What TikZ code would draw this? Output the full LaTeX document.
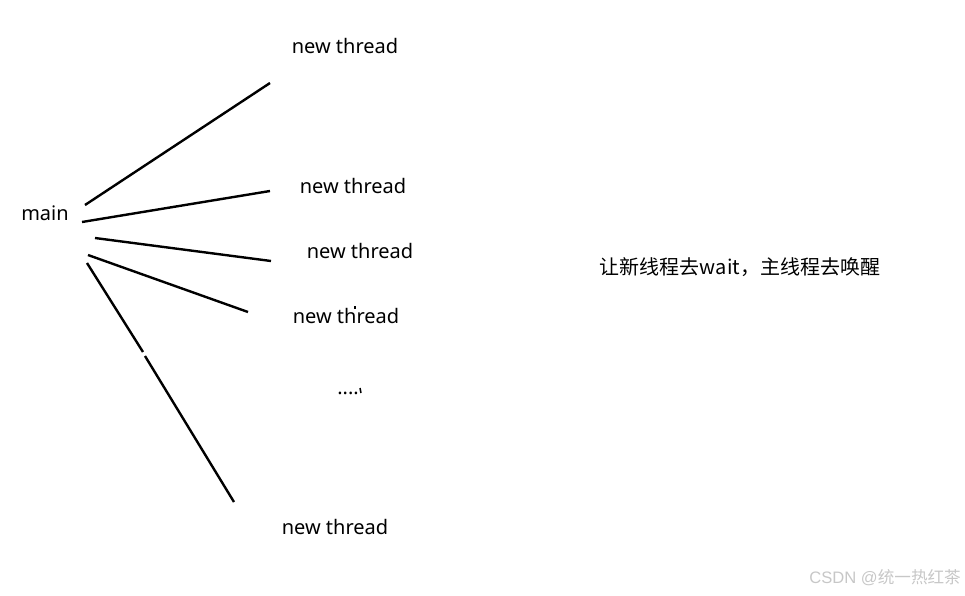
\documentclass[tikz,border=0pt]{standalone}
\usepackage{fontspec}
\setmainfont{Noto Sans}
\newfontfamily\cjk{Noto Sans CJK SC}
\newfontfamily\wmfont{Liberation Sans}
\begin{document}
\begin{tikzpicture}[x=1pt,y=-1pt,
  lbl/.style={font=\fontsize{20}{22}\selectfont, inner sep=0pt},
  cn/.style={font=\cjk\fontsize{20}{22}\selectfont, inner sep=0pt},
  wm/.style={font=\fontsize{16.6}{19}\selectfont, inner sep=0pt, text=black!22, anchor=east},
  ray/.style={line width=2.4pt, black}]
\useasboundingbox (0,0) rectangle (965,595);
\node[lbl] (main) at (45,213) {main};
\node[lbl] (t1) at (345,46) {new thread};
\node[lbl] (t2) at (353,186) {new thread};
\node[lbl] (t3) at (360,251) {new thread};
\node[lbl] (t4) at (346,316) {new thread};
\node[lbl] (dots) at (348,393) {....};
\node[lbl] (t5) at (335,527) {new thread};
\node[cn] (note) at (740,267) {让新线程去wait，主线程去唤醒};
\node[wm] (mark) at (961,578) {{\wmfont CSDN @}{\cjk 统一热红茶}};
\coordinate (a1) at (85,205); \coordinate (b1) at (270,83);
\coordinate (a2) at (82,222); \coordinate (b2) at (270,191);
\coordinate (a3) at (95,238); \coordinate (b3) at (271,261);
\coordinate (a4) at (88,255); \coordinate (b4) at (248,312);
\coordinate (a5) at (87,263); \coordinate (m5) at (143,352);
\coordinate (n5) at (145,356); \coordinate (b5) at (234,502);
\draw[ray] (a1) -- (b1);
\draw[ray] (a2) -- (b2);
\draw[ray] (a3) -- (b3);
\draw[ray] (a4) -- (b4);
\draw[ray] (a5) -- (m5);
\draw[ray] (n5) -- (b5);
\coordinate (s1) at (355,306); \coordinate (s1b) at (355,309);
\draw[line width=2.2pt] (s1) -- (s1b);
\coordinate (s2) at (360,388); \coordinate (s2b) at (361,393);
\draw[line width=1.5pt] (s2) -- (s2b);
\end{tikzpicture}
\end{document}
